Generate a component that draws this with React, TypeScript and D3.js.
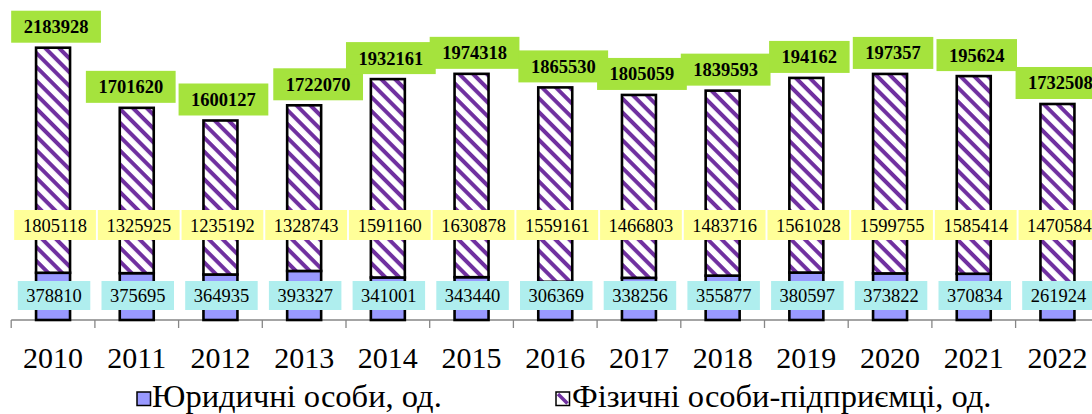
import React from 'react';
import * as d3 from 'd3';

const years = [2010, 2011, 2012, 2013, 2014, 2015, 2016, 2017, 2018, 2019, 2020, 2021, 2022];
const legalEntities = [378810, 375695, 364935, 393327, 341001, 343440, 306369, 338256, 355877, 380597, 373822, 370834, 261924];
const entrepreneurs = [1805118, 1325925, 1235192, 1328743, 1591160, 1630878, 1559161, 1466803, 1483716, 1561028, 1599755, 1585414, 1470584];
// total labels as printed in the source (three of them are cut short there)
const totalLabels = ['2183928', '1701620', '1600127', '1722070', '1932161', '1974318', '1865530', '1805059', '1839593', '194162', '197357', '195624', '1732508'];
const legendLabels = ['Юридичні особи, од.', 'Фізичні особи-підприємці, од.'];

const W = 1092;
const H = 414;
const axisY = 320;
const font = '"Liberation Serif", "Times New Roman", serif';
const labelSize = 18.5;
const digitW = labelSize * 0.5;

// manual nudges of the total labels, as in the source chart
const totalNudge: Record<number, number> = { 2011: -9, 2013: 11, 2016: 5 };

export default function App() {
  const table = years.map((year, i) => ({ year, legal: legalEntities[i], phys: entrepreneurs[i] }));
  const stack = d3.stack<any>().keys(['legal', 'phys']);
  const series = stack(table);

  const x = d3.scaleBand<number>()
    .domain(years)
    .range([11.2, 11.2 + 13 * 83.7])
    .paddingInner(0.594)
    .paddingOuter(0.297);
  const y = d3.scaleLinear().domain([0, 2500000]).range([axisY, 8.3]);
  const bw = x.bandwidth();
  const step = x.step();
  const x0 = x.range()[0];

  const fills = ['#9999ff', 'url(#stripes)'];

  return (
    <div style={{ position: 'absolute', left: 0, top: 0 }}>
      <svg width={W} height={H} style={{ display: 'block', fontFamily: font }}>
        <defs>
          <pattern id="stripes" patternUnits="userSpaceOnUse" width={9.8} height={9.8} patternTransform="rotate(45)">
            <rect width={9.8} height={9.8} fill="#ffffff" />
            <rect width={9.8} height={4} fill="#7030a0" />
          </pattern>
        </defs>
        <rect width={W} height={H} fill="#ffffff" />

        {/* axis */}
        <line x1={x0} x2={W} y1={axisY} y2={axisY} stroke="#868686" strokeWidth={1.3} />
        {d3.range(years.length + 1).map(i => (
          <line key={i} x1={x0 + i * step} x2={x0 + i * step} y1={axisY} y2={axisY + 8} stroke="#868686" strokeWidth={1.3} />
        ))}

        {/* bars */}
        {series.map((s, si) => (
          <g key={s.key}>
            {s.map((d: any) => (
              <rect
                key={d.data.year}
                x={x(d.data.year)}
                y={y(d[1])}
                width={bw}
                height={y(d[0]) - y(d[1])}
                fill={fills[si]}
                stroke="#000"
                strokeWidth={2.6}
              />
            ))}
          </g>
        ))}

        {/* entrepreneurs labels */}
        {entrepreneurs.map((v, i) => {
          const cx = (x(years[i]) as number) + bw / 2 + 2;
          const tw = String(v).length * digitW;
          return (
            <g key={'p' + i}>
              <rect x={cx - tw / 2 - 8.5} y={210} width={tw + 17} height={30} fill="#ffff99" />
              <text x={cx} y={231.5} textAnchor="middle" fontSize={labelSize}>{v}</text>
            </g>
          );
        })}

        {/* legal entities labels */}
        {legalEntities.map((v, i) => {
          const cx = (x(years[i]) as number) + bw / 2 + 1;
          const tw = String(v).length * digitW;
          return (
            <g key={'l' + i}>
              <rect x={cx - tw / 2 - 8.5} y={281} width={tw + 17} height={29} fill="#afeeee" />
              <text x={cx} y={302} textAnchor="middle" fontSize={labelSize}>{v}</text>
            </g>
          );
        })}

        {/* total labels */}
        {totalLabels.map((t, i) => {
          const top = y(legalEntities[i] + entrepreneurs[i]);
          const cx = (x(years[i]) as number) + bw / 2 + 3 + (totalNudge[years[i]] || 0);
          const tw = t.length * digitW;
          return (
            <g key={'t' + i}>
              <rect x={cx - tw / 2 - 12.5} y={top - 37} width={tw + 25} height={32} fill="#a5e33d" />
              <text x={cx} y={top - 14.5} textAnchor="middle" fontSize={labelSize} fontWeight="bold">{t}</text>
            </g>
          );
        })}

        {/* year labels */}
        {years.map(yr => (
          <text key={yr} x={(x(yr) as number) + bw / 2} y={368} textAnchor="middle" fontSize={30}>{yr}</text>
        ))}

        {/* legend */}
        <g>
          <rect x={137} y={392} width={13.5} height={13.5} fill="#9999ff" stroke="#000" strokeWidth={1.5} />
          <text x={152} y={407} fontSize={32.5}>{legendLabels[0]}</text>
          <rect x={556} y={392} width={13.5} height={13.5} fill="#ffffff" />
          <line x1={558} y1={394} x2={567.5} y2={403.5} stroke="#7030a0" strokeWidth={3.5} />
          <rect x={556} y={392} width={13.5} height={13.5} fill="none" stroke="#000" strokeWidth={1.5} />
          <text x={572} y={407} fontSize={32.5}>{legendLabels[1]}</text>
        </g>
      </svg>
    </div>
  );
}
